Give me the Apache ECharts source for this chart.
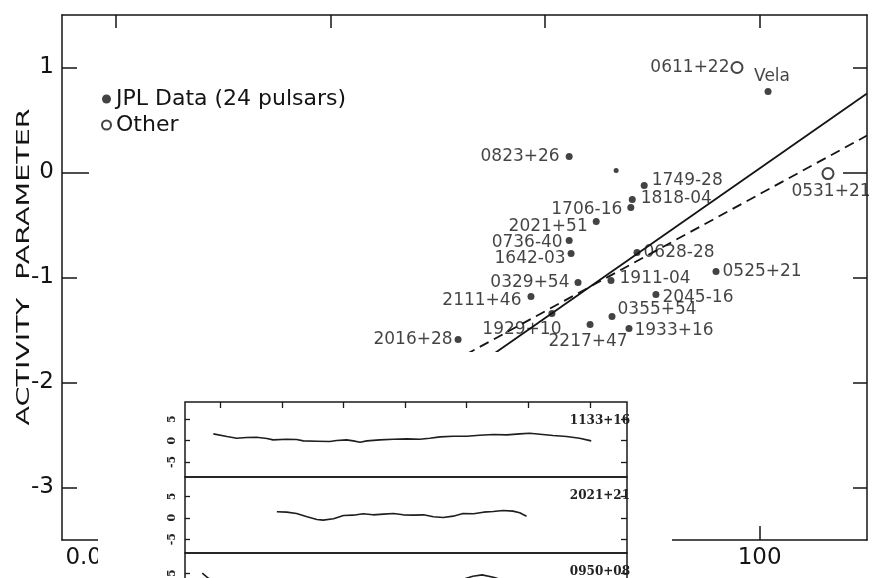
<!DOCTYPE html>
<html><head><meta charset="utf-8">
<script src="https://cdn.jsdelivr.net/npm/echarts@6/dist/echarts.min.js"></script>
<style>html,body{margin:0;padding:0;background:#fff}#c{width:878px;height:578px}</style>
</head><body><div id="c"></div>
<script>
// ---------- main chart data ----------
const jplNames = ['0823+26','1749-28','1818-04','1706-16','2021+51','0736-40','1642-03','0628-28','0329+54','1911-04','2111+46','1929+10','2217+47','0355+54','2045-16','1933+16','0525+21','2016+28','Vela'];
const jplPdot = [1.68, 8.4, 6.5, 6.3, 3.0, 1.68, 1.75, 7.2, 2.03, 4.12, 0.74, 1.16, 2.63, 4.21, 10.8, 6.06, 39.2, 0.155, 119.7];
const jplActivity = [0.152, -0.124, -0.257, -0.333, -0.467, -0.648, -0.771, -0.762, -1.048, -1.029, -1.181, -1.343, -1.448, -1.371, -1.162, -1.486, -0.943, -1.590, 0.771];
const extraPdot = [4.6];
const extraActivity = [0.02];
const otherNames = ['0611+22', '0531+21'];
const otherPdot = [61.5, 433];
const otherActivity = [1.0, -0.01];
const solidFitPdot = [0.1, 1000];
const solidFitActivity = [-2.10, 0.752];
const dashedFitPdot = [0.1, 1000];
const dashedFitActivity = [-1.88, 0.352];
const xTickValues = [0.0001, 0.01, 1, 100];
const yTickValues = [-3, -2, -1, 0, 1];
const yAxisTitle = 'ACTIVITY  PARAMETER';

// ---------- inset data (timing residuals) ----------
const insetNames = ['1133+16', '2021+21', '0950+08'];
const insetYearTicks = [1969, 1970, 1971, 1972, 1973, 1974, 1975];
const insetResidTicks = [-5, 0, 5];
const res1133Years = [1968.89,1969.11,1969.27,1969.43,1969.59,1969.76,1969.86,1970.08,1970.24,1970.35,1970.57,1970.78,1970.89,1971.05,1971.16,1971.27,1971.38,1971.59,1971.81,1972.03,1972.24,1972.40,1972.57,1972.78,1973.00,1973.21,1973.43,1973.65,1973.86,1974.02,1974.19,1974.40,1974.62,1974.83,1975.02];
const res1133 = [1.56,0.94,0.55,0.71,0.79,0.47,0.16,0.32,0.24,-0.07,-0.15,-0.23,0.01,0.16,-0.07,-0.38,-0.07,0.16,0.32,0.40,0.32,0.55,0.86,1.02,1.02,1.25,1.41,1.33,1.56,1.72,1.48,1.17,0.94,0.55,-0.07];
const res2021Years = [1969.92,1970.08,1970.24,1970.41,1970.57,1970.67,1970.84,1971.00,1971.16,1971.32,1971.48,1971.65,1971.81,1971.97,1972.13,1972.30,1972.46,1972.62,1972.78,1972.94,1973.11,1973.27,1973.43,1973.59,1973.75,1973.86,1973.97];
const res2021 = [1.39,1.31,1.00,0.23,-0.40,-0.55,-0.24,0.54,0.61,0.93,0.69,0.85,1.00,0.69,0.61,0.69,0.23,0.07,0.38,1.00,0.93,1.31,1.47,1.70,1.55,1.16,0.38];
const res0950Years = [1968.71,1968.81,1969.0,1969.4,1969.9,1970.5,1971.0,1971.6,1972.2,1972.6,1972.9,1973.1,1973.25,1973.45,1973.7,1974.1,1974.6,1975.0];
const res0950 = [5.0,3.8,2.6,1.0,-0.3,-1.0,-1.2,-0.8,0.5,2.0,3.4,4.3,4.6,4.0,2.8,1.2,0.0,-0.8];

// ---------- styling / layout config ----------
const INK = '#141414';
const SANS = '"DejaVu Sans", sans-serif';
const SERIF = '"DejaVu Serif", serif';
const labelPlace = {
  '0823+26': {position:'left', distance:6},
  '1749-28': {position:'right', distance:4, offset:[0,-5]},
  '1818-04': {position:'right', distance:5, offset:[0,-1]},
  '1706-16': {position:'left', distance:5, offset:[0,2]},
  '2021+51': {position:'left', distance:5, offset:[0,5]},
  '0736-40': {position:'left', distance:3, offset:[0,2]},
  '1642-03': {position:'left', distance:2, offset:[0,5]},
  '0628-28': {position:'right', distance:3},
  '0329+54': {position:'left', distance:5},
  '1911-04': {position:'right', distance:5, offset:[0,-2]},
  '2111+46': {position:'left', distance:6, offset:[0,4]},
  '1929+10': {position:'inside', offset:[-30,16]},
  '2217+47': {position:'bottom', distance:5, offset:[-2,0]},
  '0355+54': {position:'right', distance:2, offset:[0,-7]},
  '2045-16': {position:'right', distance:3, offset:[0,3]},
  '1933+16': {position:'right', distance:2, offset:[0,2]},
  '0525+21': {position:'right', distance:3},
  '2016+28': {position:'left', distance:2},
  'Vela': {position:'top', distance:3, offset:[4,0]},
  '0611+22': {position:'left', distance:1},
  '0531+21': {position:'bottom', distance:3, offset:[3,0]}
};

const lg = v => Math.log10(v);
const xTickLog = xTickValues.map(lg);
function xLabel(v) {
  const t = xTickValues.find(tv => Math.abs(lg(tv) - v) < 1e-6);
  if (t === undefined) return '';
  return t === xTickValues[0] ? '{first|' + String(t) + '}' : String(t);
}
function pointItem(name, px, act) {
  const p = labelPlace[name] || {position:'right'};
  return {name: name, value: [lg(px), act], label: Object.assign({show: true}, p)};
}

const axisLineStyle = {color: INK, width: 1.5};
const mainYMin = -3.5, mainYMax = 1.5, mainXMin = -4.5, mainXMax = 3;

const insetGridsTop = [402, 477, 553];
const insetGridsH = [75, 76, 76];
const insetYRange = [[-8.5, 9.0], [-8.2, 9.5], [-8.0, 9.7]];
const insetXMin = 1968.43, insetXMax = 1975.60;
const insetYears = [res1133Years, res2021Years, res0950Years];
const insetRes = [res1133, res2021, res0950];

const grids = [{left: 62, right: 11, top: 15, bottom: 38, show: false, outerBoundsMode: 'none', containLabel: false}];
insetGridsTop.forEach((t, i) => grids.push({
  left: 185, width: 442, top: t, height: insetGridsH[i], show: true, outerBoundsMode: 'none', containLabel: false,
  borderColor: '#1a1a1a', borderWidth: 1.5, backgroundColor: 'transparent', z: 110
}));

const xAxes = [
  {gridIndex: 0, type: 'value', min: mainXMin, max: mainXMax, position: 'bottom',
   axisLine: {onZero: false, lineStyle: axisLineStyle},
   axisTick: {inside: true, length: 14, customValues: xTickLog, lineStyle: axisLineStyle},
   axisLabel: {customValues: xTickLog, formatter: xLabel, fontSize: 23, margin: 7, color: INK, fontFamily: SANS,
     rich: {first: {fontSize: 23, fontFamily: SANS, color: INK, padding: [0, 20, 0, 0]}}},
   splitLine: {show: false}},
  {gridIndex: 0, type: 'value', min: mainXMin, max: mainXMax, position: 'top',
   axisLine: {onZero: false, lineStyle: axisLineStyle},
   axisTick: {inside: true, length: 13, customValues: xTickLog, lineStyle: axisLineStyle},
   axisLabel: {show: false}, splitLine: {show: false}}
];
const yAxes = [
  {gridIndex: 0, type: 'value', min: mainYMin, max: mainYMax, position: 'left',
   axisLine: {onZero: false, lineStyle: axisLineStyle},
   axisTick: {inside: true, length: 15, customValues: yTickValues, lineStyle: axisLineStyle},
   axisLabel: {customValues: yTickValues, fontSize: 23, margin: 8, color: INK, fontFamily: SANS},
   splitLine: {show: false}},
  {gridIndex: 0, type: 'value', min: mainYMin, max: mainYMax, position: 'right',
   axisLine: {onZero: false, lineStyle: axisLineStyle},
   axisTick: {inside: true, length: 14, customValues: yTickValues, lineStyle: axisLineStyle},
   axisLabel: {show: false}, splitLine: {show: false}},
  {gridIndex: 0, type: 'value', min: mainYMin, max: mainYMax, position: 'left',
   axisLine: {show: false, onZero: false},
   axisTick: {inside: true, length: 27, customValues: [0], lineStyle: axisLineStyle},
   axisLabel: {show: false}, splitLine: {show: false}},
  {gridIndex: 0, type: 'value', min: mainYMin, max: mainYMax, position: 'right',
   axisLine: {show: false, onZero: false},
   axisTick: {inside: true, length: 24, customValues: [0], lineStyle: axisLineStyle},
   axisLabel: {show: false}, splitLine: {show: false}}
];

const insetTickStyle = {color: '#1a1a1a', width: 1.3};
const insetSeries = [];
for (let i = 0; i < 3; i++) {
  const g = i + 1;
  xAxes.push({gridIndex: g, type: 'value', min: insetXMin, max: insetXMax,
    position: i === 0 ? 'top' : 'bottom', z: 110,
    axisLine: {show: false, onZero: false},
    axisTick: {show: i === 0, inside: true, length: 6, customValues: insetYearTicks, lineStyle: insetTickStyle},
    axisLabel: {show: false}, splitLine: {show: false}});
  yAxes.push({gridIndex: g, type: 'value', min: insetYRange[i][0], max: insetYRange[i][1], position: 'left', z: 110,
    axisLine: {show: false, onZero: false},
    axisTick: {inside: true, length: 5, customValues: insetResidTicks, lineStyle: insetTickStyle},
    axisLabel: {customValues: insetResidTicks, rotate: 90, fontSize: 11, margin: 7, color: '#222', fontFamily: SERIF, fontWeight: 'bold'},
    splitLine: {show: false}});
  yAxes.push({gridIndex: g, type: 'value', min: insetYRange[i][0], max: insetYRange[i][1], position: 'right', z: 110,
    axisLine: {show: false, onZero: false},
    axisTick: {inside: true, length: 6, customValues: insetResidTicks, lineStyle: insetTickStyle},
    axisLabel: {show: false}, splitLine: {show: false}});
  insetSeries.push({
    type: 'line', name: insetNames[i], xAxisIndex: 2 + i, yAxisIndex: 4 + i * 2,
    data: insetYears[i].map((y, k) => [y, insetRes[i][k]]),
    symbol: 'none', smooth: false, z: 115, silent: true,
    lineStyle: {color: '#1e1e1e', width: 1.6}
  });
}

const labelText = {color: INK, fontSize: 17, fontFamily: SANS, formatter: '{b}'};

const option = {
  animation: false,
  backgroundColor: '#fff',
  grid: grids,
  xAxis: xAxes,
  yAxis: yAxes,
  legend: {
    orient: 'vertical', left: 96, top: 83, itemGap: 4, itemWidth: 9, itemHeight: 9,
    textStyle: {fontSize: 22, color: INK, fontFamily: SANS},
    data: [{name: 'JPL Data (24 pulsars)', icon: 'circle'}, {name: 'Other', icon: 'emptyCircle'}],
    selectedMode: false
  },
  series: [
    {type: 'line', name: 'fit', xAxisIndex: 0, yAxisIndex: 0, symbol: 'none', silent: true, z: 3,
     data: solidFitPdot.map((p, k) => [lg(p), solidFitActivity[k]]),
     lineStyle: {color: INK, width: 1.8}},
    {type: 'line', name: 'fit2', xAxisIndex: 0, yAxisIndex: 0, symbol: 'none', silent: true, z: 3,
     data: dashedFitPdot.map((p, k) => [lg(p), dashedFitActivity[k]]),
     lineStyle: {color: INK, width: 1.8, type: [10, 6]}},
    {type: 'scatter', name: 'JPL Data (24 pulsars)', xAxisIndex: 0, yAxisIndex: 0, symbol: 'circle', symbolSize: 7, z: 5,
     itemStyle: {color: INK},
     label: labelText,
     data: jplNames.map((n, k) => pointItem(n, jplPdot[k], jplActivity[k]))},
    {type: 'scatter', name: 'JPL extra', xAxisIndex: 0, yAxisIndex: 0, symbol: 'circle', symbolSize: 5, z: 5,
     itemStyle: {color: INK},
     data: extraPdot.map((p, k) => [lg(p), extraActivity[k]])},
    {type: 'scatter', name: 'Other', xAxisIndex: 0, yAxisIndex: 0, symbol: 'emptyCircle', symbolSize: 11, z: 5,
     itemStyle: {color: INK, borderColor: INK, borderWidth: 1.5},
     label: labelText,
     data: otherNames.map((n, k) => pointItem(n, otherPdot[k], otherActivity[k]))}
  ].concat(insetSeries),
  graphic: [
    {type: 'rect', shape: {x: 98, y: 352, width: 574, height: 226}, style: {fill: '#fff'}, z: 100, silent: true},
    {type: 'text', x: 25, y: 267, rotation: Math.PI / 2, scaleX: 1.68, z: 10, silent: true,
     style: {text: yAxisTitle, x: 0, y: 0, font: '17px "DejaVu Sans"', fill: INK, align: 'center', verticalAlign: 'middle'}}
  ].concat(insetNames.map((n, i) => ({
    type: 'text', x: 630, y: insetGridsTop[i] + 19, z: 120, silent: true,
    style: {text: n, font: 'bold 12px "DejaVu Serif"', fill: '#222', align: 'right', verticalAlign: 'middle'}
  })))
};

const chart = echarts.init(document.getElementById('c'), null, {renderer: 'canvas'});
chart.setOption(option);
</script>
</body></html>
